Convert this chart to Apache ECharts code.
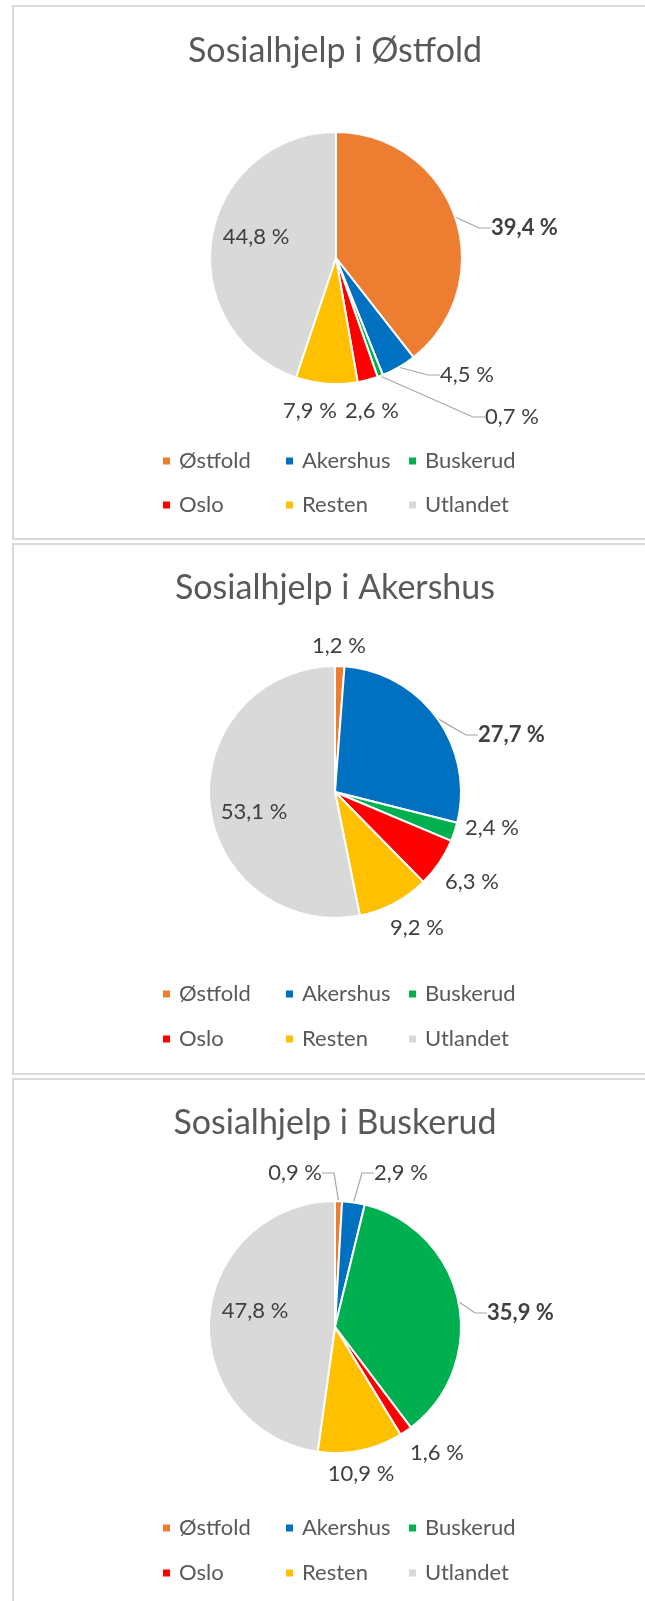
<!DOCTYPE html>
<html>
<head>
<meta charset="utf-8">
<title>Sosialhjelp</title>
<script src="https://cdn.jsdelivr.net/npm/echarts@6/dist/echarts.min.js"></script>
<style>
  html, body { margin: 0; padding: 0; background: #fff; }
  #chart { width: 645px; height: 1601px; }
</style>
</head>
<body>
<div id="chart"></div>
<script>
const categories = ['Østfold', 'Akershus', 'Buskerud', 'Oslo', 'Resten', 'Utlandet']
const titles = ['Sosialhjelp i Østfold', 'Sosialhjelp i Akershus', 'Sosialhjelp i Buskerud']
const ostfold = [39.4, 4.5, 0.7, 2.6, 7.9, 44.8]
const akershus = [1.2, 27.7, 2.4, 6.3, 9.2, 53.1]
const buskerud = [0.9, 2.9, 35.9, 1.6, 10.9, 47.8]
const panelValues = [ostfold, akershus, buskerud]

const colors = ['#ed7d31', '#0070c0', '#00b050', '#ff0000', '#ffc000', '#d9d9d9']
const FONT = 'Lato, "Open Sans", sans-serif'

// frame, title, pie and legend rows of each panel (px)
const panels = [
  { top: 6, height: 533, title: 51, center: [336, 258], legend: [461, 505] },
  { top: 544, height: 530, title: 588, center: [335, 792], legend: [994, 1039] },
  { top: 1079, height: 600, title: 1123, center: [335, 1327], legend: [1528, 1573] }
]
const legendLeft = 161
const legendColumn = 123

// where Excel put each data label, relative to the pie centre: [dx, dy, align, leader line]
const labelSpots = [
  [[155, -30, 'left', true], [104, 117, 'left', true], [149, 159, 'left', true],
    [36, 153, 'center', false], [-26, 153, 'center', false], [-80, -21, 'center', false]],
  [[4, -146, 'center', false], [143, -57, 'left', true], [130, 36, 'left', false],
    [110, 90, 'left', false], [55, 136, 'left', false], [-81, 20, 'center', false]],
  [[-13, -154, 'right', true], [39, -154, 'left', true], [152, -14, 'left', true],
    [75, 126, 'left', false], [26, 147, 'center', false], [-80, -16, 'center', false]]
]

function formatPct (v) {
  return v.toFixed(1).replace('.', ',') + ' %'
}

const chart = echarts.init(document.getElementById('chart'))

const title = []
const legend = []
const series = []
const graphic = []

panels.forEach((p, i) => {
  graphic.push({
    type: 'rect',
    silent: true,
    z: -1,
    shape: { x: 13, y: p.top, width: 700, height: p.height },
    style: { fill: 'none', stroke: '#d9d9d9', lineWidth: 2 }
  })

  title.push({
    text: titles[i],
    left: 335,
    top: p.title,
    padding: 0,
    textAlign: 'center',
    textVerticalAlign: 'middle',
    textStyle: { fontFamily: FONT, fontSize: 34, fontWeight: 'normal', color: '#595959' }
  })

  // Excel lays the legend out as a 3 x 2 grid
  categories.forEach((name, j) => {
    legend.push({
      data: [name],
      left: legendLeft + (j % 3) * legendColumn,
      top: p.legend[Math.floor(j / 3)] - 11,
      padding: 0,
      icon: 'rect',
      itemWidth: 9,
      itemHeight: 9,
      selectedMode: false,
      textStyle: {
        fontFamily: FONT,
        fontSize: 22,
        color: '#595959',
        padding: [0, 0, 0, 3]
      }
    })
  })

  const spots = labelSpots[i]
  series.push({
    type: 'pie',
    radius: 126,
    center: p.center,
    startAngle: 90,
    clockwise: true,
    avoidLabelOverlap: false,
    emphasis: { disabled: true },
    itemStyle: { borderColor: '#fff', borderWidth: 2 },
    label: {
      position: 'outside',
      fontFamily: FONT,
      fontSize: 22,
      color: '#404040',
      padding: [0, 4, 0, 4],
      formatter: params => formatPct(params.value)
    },
    labelLine: {
      length: 10,
      length2: 12,
      lineStyle: { color: '#a6a6a6', width: 1.2 }
    },
    labelLayout: function (params) {
      const s = spots[params.dataIndex]
      const shift = s[2] === 'left' ? -4 : (s[2] === 'right' ? 4 : 0)
      return {
        x: p.center[0] + s[0] + shift,
        y: p.center[1] + s[1],
        align: s[2],
        verticalAlign: 'middle'
      }
    },
    data: categories.map((name, j) => ({
      name: name,
      value: panelValues[i][j],
      itemStyle: { color: colors[j] },
      label: { fontWeight: j === i ? 'bold' : 'normal' },
      labelLine: { show: spots[j][3] }
    }))
  })
})

chart.setOption({
  backgroundColor: '#fff',
  animation: false,
  title: title,
  legend: legend,
  graphic: graphic,
  series: series
})
</script>
</body>
</html>
